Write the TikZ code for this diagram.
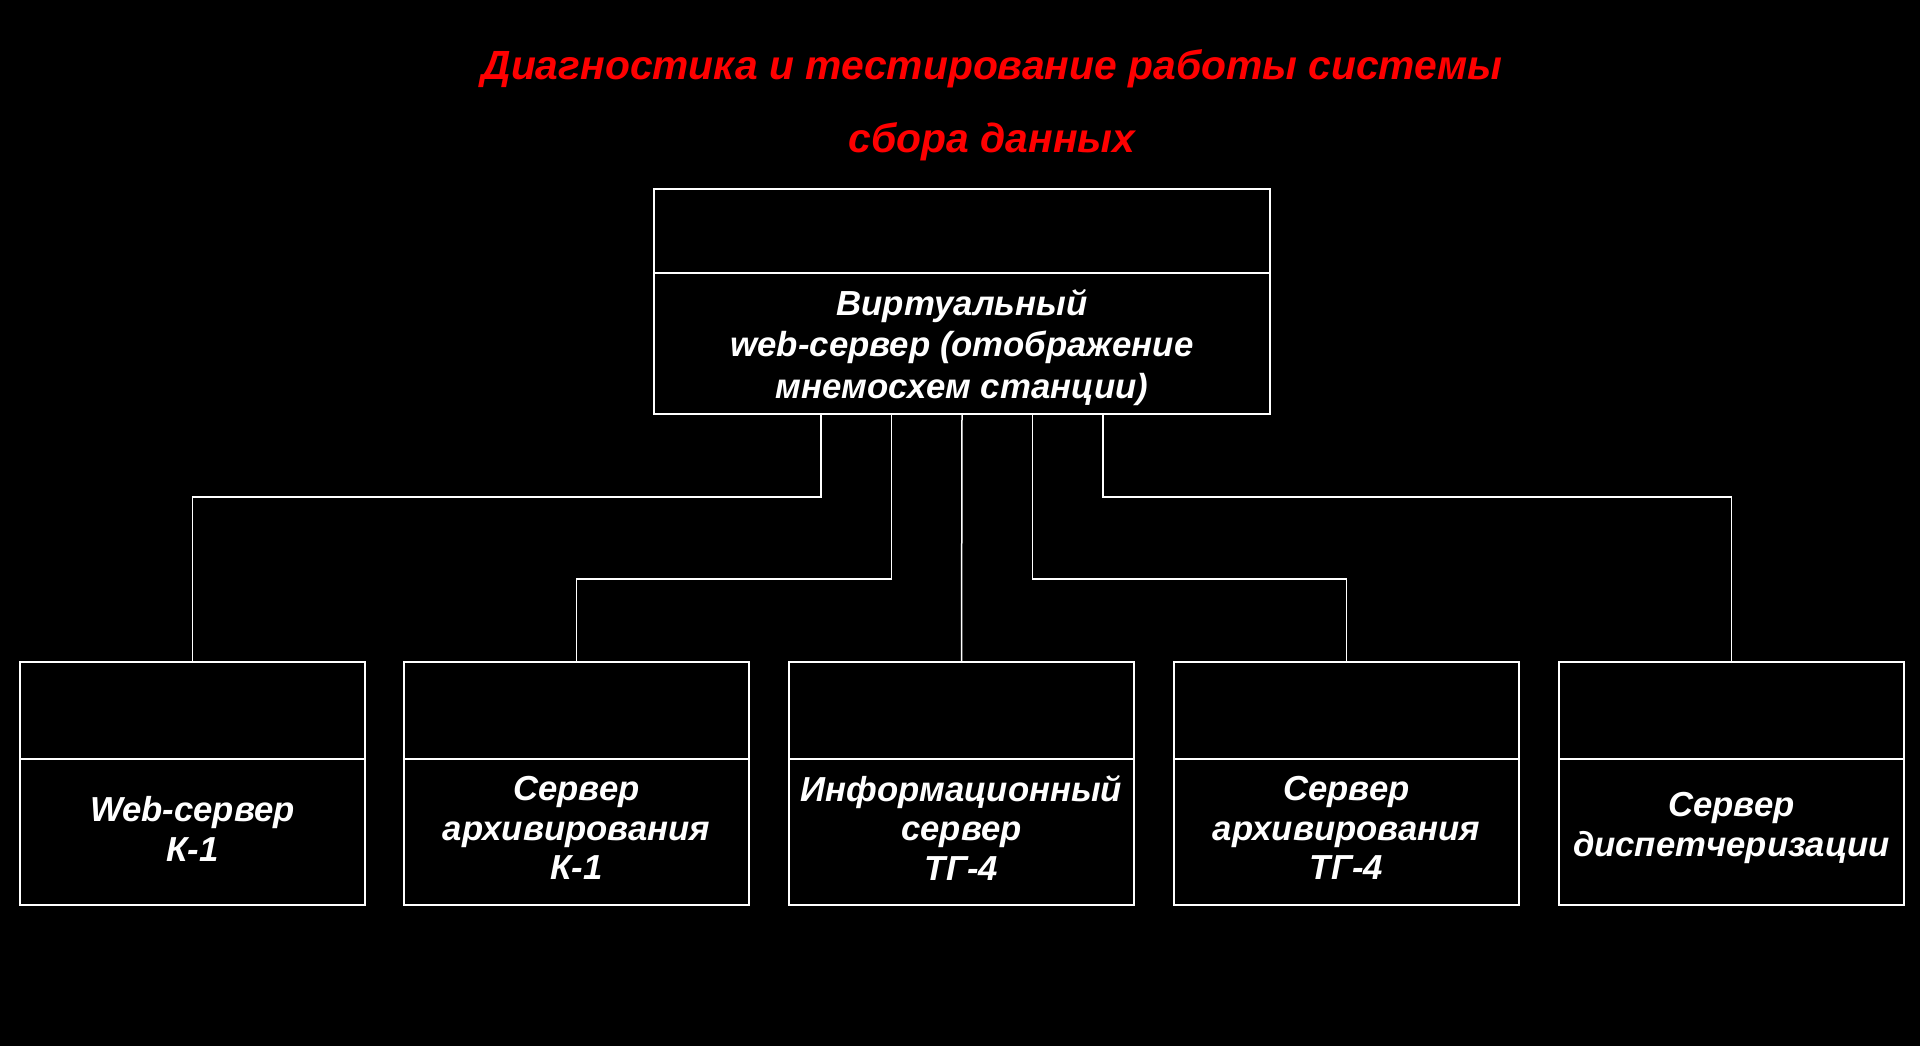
\documentclass[tikz,border=0pt]{standalone}
\usepackage{fontspec}
\setmainfont{Liberation Sans}
\begin{document}
\begin{tikzpicture}[x=1pt,y=-1pt,
  cell/.style={draw=white, line width=1.5pt, fill=black, inner sep=0pt},
  topcell/.style={cell, minimum width=616pt},
  botcell/.style={cell, minimum width=345pt},
  lbl/.style={text=white, align=center, inner sep=0pt},
  ttl/.style={text=red, font=\fontsize{40.8}{46}\selectfont\bfseries\itshape, inner sep=0pt},
  conn/.style={draw=white, line width=1.5pt}]
\fill[black] (0,0) rectangle (1920,1046);
\useasboundingbox (0,0) rectangle (1920,1046);

\node[ttl] (t1) at (992,69) {Диагностика и тестирование работы системы};
\node[ttl] (t2) at (992,142) {сбора данных};

\node[topcell, minimum height=84pt] (tophead) at (962,231) {};
\node[topcell, minimum height=141pt] (top) at (962,343.5) {};
\node[lbl, font=\fontsize{34.8}{41.6}\selectfont\bfseries\itshape] (toplbl) at ([yshift=-4pt]top.center)
  {Виртуальный\\web-сервер (отображение\\мнемосхем станции)};

\foreach \n/\x in {1/192.5, 2/576.5, 3/961.5, 4/1346.5, 5/1731.5}{
  \node[botcell, minimum height=97pt] (h\n) at (\x,710.5) {};
  \node[botcell, minimum height=146pt] (b\n) at (\x,832) {};
}
\tikzset{bl/.style={lbl, font=\fontsize{34.7}{39.2}\selectfont\bfseries\itshape}}
\node[bl] (l1) at ([yshift=3pt]b1.center) {Web-сервер\\К-1};
\node[bl] (l2) at ([yshift=4pt]b2.center) {Сервер\\архивирования\\К-1};
\node[bl] (l3) at ([yshift=4pt]b3.center) {Информационный\\сервер\\ТГ-4};
\node[bl] (l4) at ([yshift=4pt]b4.center) {Сервер\\архивирования\\ТГ-4};
\node[bl] (l5) at ([yshift=4pt]b5.center) {Сервер\\диспетчеризации};

\draw[conn] ([xshift=-141pt]top.south) -- ++(0,82) -| (h1.north);
\draw[conn] ([xshift=-70.5pt]top.south) -- ++(0,164) -| (h2.north);
\draw[conn] (top.south) -- (h3.north);
\draw[conn] ([xshift=70.5pt]top.south) -- ++(0,164) -| (h4.north);
\draw[conn] ([xshift=141pt]top.south) -- ++(0,82) -| (h5.north);
\end{tikzpicture}
\end{document}
